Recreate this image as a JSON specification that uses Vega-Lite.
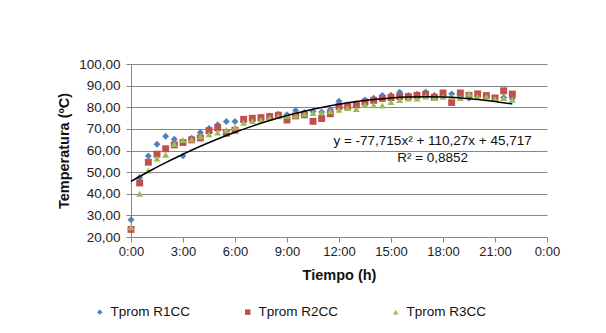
{
  "$schema": "https://vega.github.io/schema/vega-lite/v6.json",
  "width": 416,
  "height": 173,
  "autosize": "none",
  "padding": {"left": 131, "top": 64, "right": 59, "bottom": 96},
  "background": "white",
  "config": {
    "font": "Liberation Sans",
    "view": {"stroke": null},
    "axis": {"labelFont": "Liberation Sans", "titleFont": "Liberation Sans", "labelColor": "#222", "titleColor": "#111"}
  },
  "datasets": {
    "obs": [
      {"t": 0, "s": "Tprom R1CC", "v": 28.0}, {"t": 0, "s": "Tprom R2CC", "v": 23.5}, {"t": 0, "s": "Tprom R3CC", "v": 24.5},
      {"t": 0.5, "s": "Tprom R1CC", "v": 47.5}, {"t": 0.5, "s": "Tprom R2CC", "v": 45.0}, {"t": 0.5, "s": "Tprom R3CC", "v": 40.0},
      {"t": 1, "s": "Tprom R1CC", "v": 57.5}, {"t": 1, "s": "Tprom R2CC", "v": 54.6}, {"t": 1, "s": "Tprom R3CC", "v": 50.8},
      {"t": 1.5, "s": "Tprom R1CC", "v": 62.9}, {"t": 1.5, "s": "Tprom R2CC", "v": 58.3}, {"t": 1.5, "s": "Tprom R3CC", "v": 56.3},
      {"t": 2, "s": "Tprom R1CC", "v": 66.6}, {"t": 2, "s": "Tprom R2CC", "v": 60.8}, {"t": 2, "s": "Tprom R3CC", "v": 58.0},
      {"t": 2.5, "s": "Tprom R1CC", "v": 65.2}, {"t": 2.5, "s": "Tprom R2CC", "v": 62.6}, {"t": 2.5, "s": "Tprom R3CC", "v": 63.0},
      {"t": 3, "s": "Tprom R1CC", "v": 57.5}, {"t": 3, "s": "Tprom R2CC", "v": 63.7}, {"t": 3, "s": "Tprom R3CC", "v": 64.8},
      {"t": 3.5, "s": "Tprom R1CC", "v": 65.7}, {"t": 3.5, "s": "Tprom R2CC", "v": 64.9}, {"t": 3.5, "s": "Tprom R3CC", "v": 65.1},
      {"t": 4, "s": "Tprom R1CC", "v": 68.3}, {"t": 4, "s": "Tprom R2CC", "v": 65.8}, {"t": 4, "s": "Tprom R3CC", "v": 66.5},
      {"t": 4.5, "s": "Tprom R1CC", "v": 70.2}, {"t": 4.5, "s": "Tprom R2CC", "v": 69.2}, {"t": 4.5, "s": "Tprom R3CC", "v": 67.5},
      {"t": 5, "s": "Tprom R1CC", "v": 71.9}, {"t": 5, "s": "Tprom R2CC", "v": 70.5}, {"t": 5, "s": "Tprom R3CC", "v": 68.3},
      {"t": 5.5, "s": "Tprom R1CC", "v": 73.4}, {"t": 5.5, "s": "Tprom R2CC", "v": 68.0}, {"t": 5.5, "s": "Tprom R3CC", "v": 69.5},
      {"t": 6, "s": "Tprom R1CC", "v": 73.4}, {"t": 6, "s": "Tprom R2CC", "v": 69.4}, {"t": 6, "s": "Tprom R3CC", "v": 70.8},
      {"t": 6.5, "s": "Tprom R1CC", "v": 73.5}, {"t": 6.5, "s": "Tprom R2CC", "v": 74.4}, {"t": 6.5, "s": "Tprom R3CC", "v": 72.8},
      {"t": 7, "s": "Tprom R1CC", "v": 74.0}, {"t": 7, "s": "Tprom R2CC", "v": 74.9}, {"t": 7, "s": "Tprom R3CC", "v": 73.6},
      {"t": 7.5, "s": "Tprom R1CC", "v": 74.5}, {"t": 7.5, "s": "Tprom R2CC", "v": 75.2}, {"t": 7.5, "s": "Tprom R3CC", "v": 74.2},
      {"t": 8, "s": "Tprom R1CC", "v": 76.0}, {"t": 8, "s": "Tprom R2CC", "v": 75.7}, {"t": 8, "s": "Tprom R3CC", "v": 75.2},
      {"t": 8.5, "s": "Tprom R1CC", "v": 76.8}, {"t": 8.5, "s": "Tprom R2CC", "v": 76.3}, {"t": 8.5, "s": "Tprom R3CC", "v": 75.8},
      {"t": 9, "s": "Tprom R1CC", "v": 76.5}, {"t": 9, "s": "Tprom R2CC", "v": 74.1}, {"t": 9, "s": "Tprom R3CC", "v": 75.9},
      {"t": 9.5, "s": "Tprom R1CC", "v": 78.5}, {"t": 9.5, "s": "Tprom R2CC", "v": 76.0}, {"t": 9.5, "s": "Tprom R3CC", "v": 76.2},
      {"t": 10, "s": "Tprom R1CC", "v": 77.6}, {"t": 10, "s": "Tprom R2CC", "v": 76.5}, {"t": 10, "s": "Tprom R3CC", "v": 76.9},
      {"t": 10.5, "s": "Tprom R1CC", "v": 78.0}, {"t": 10.5, "s": "Tprom R2CC", "v": 73.5}, {"t": 10.5, "s": "Tprom R3CC", "v": 77.3},
      {"t": 11, "s": "Tprom R1CC", "v": 77.8}, {"t": 11, "s": "Tprom R2CC", "v": 74.8}, {"t": 11, "s": "Tprom R3CC", "v": 77.6},
      {"t": 11.5, "s": "Tprom R1CC", "v": 79.0}, {"t": 11.5, "s": "Tprom R2CC", "v": 77.0}, {"t": 11.5, "s": "Tprom R3CC", "v": 78.2},
      {"t": 12, "s": "Tprom R1CC", "v": 82.8}, {"t": 12, "s": "Tprom R2CC", "v": 80.4}, {"t": 12, "s": "Tprom R3CC", "v": 78.9},
      {"t": 12.5, "s": "Tprom R1CC", "v": 81.0}, {"t": 12.5, "s": "Tprom R2CC", "v": 80.4}, {"t": 12.5, "s": "Tprom R3CC", "v": 79.6},
      {"t": 13, "s": "Tprom R1CC", "v": 81.6}, {"t": 13, "s": "Tprom R2CC", "v": 81.1}, {"t": 13, "s": "Tprom R3CC", "v": 79.2},
      {"t": 13.5, "s": "Tprom R1CC", "v": 83.4}, {"t": 13.5, "s": "Tprom R2CC", "v": 82.4}, {"t": 13.5, "s": "Tprom R3CC", "v": 81.2},
      {"t": 14, "s": "Tprom R1CC", "v": 84.2}, {"t": 14, "s": "Tprom R2CC", "v": 83.2}, {"t": 14, "s": "Tprom R3CC", "v": 80.9},
      {"t": 14.5, "s": "Tprom R1CC", "v": 85.4}, {"t": 14.5, "s": "Tprom R2CC", "v": 84.1}, {"t": 14.5, "s": "Tprom R3CC", "v": 80.8},
      {"t": 15, "s": "Tprom R1CC", "v": 85.6}, {"t": 15, "s": "Tprom R2CC", "v": 84.5}, {"t": 15, "s": "Tprom R3CC", "v": 82.4},
      {"t": 15.5, "s": "Tprom R1CC", "v": 87.0}, {"t": 15.5, "s": "Tprom R2CC", "v": 85.0}, {"t": 15.5, "s": "Tprom R3CC", "v": 83.4},
      {"t": 16, "s": "Tprom R1CC", "v": 85.5}, {"t": 16, "s": "Tprom R2CC", "v": 84.9}, {"t": 16, "s": "Tprom R3CC", "v": 84.0},
      {"t": 16.5, "s": "Tprom R1CC", "v": 86.0}, {"t": 16.5, "s": "Tprom R2CC", "v": 85.5}, {"t": 16.5, "s": "Tprom R3CC", "v": 84.0},
      {"t": 17, "s": "Tprom R1CC", "v": 87.0}, {"t": 17, "s": "Tprom R2CC", "v": 86.0}, {"t": 17, "s": "Tprom R3CC", "v": 85.0},
      {"t": 17.5, "s": "Tprom R1CC", "v": 85.5}, {"t": 17.5, "s": "Tprom R2CC", "v": 84.6}, {"t": 17.5, "s": "Tprom R3CC", "v": 84.3},
      {"t": 18, "s": "Tprom R1CC", "v": 85.5}, {"t": 18, "s": "Tprom R2CC", "v": 86.6}, {"t": 18, "s": "Tprom R3CC", "v": 84.8},
      {"t": 18.5, "s": "Tprom R1CC", "v": 86.2}, {"t": 18.5, "s": "Tprom R2CC", "v": 82.2}, {"t": 18.5, "s": "Tprom R3CC", "v": 84.8},
      {"t": 19, "s": "Tprom R1CC", "v": 85.0}, {"t": 19, "s": "Tprom R2CC", "v": 86.6}, {"t": 19, "s": "Tprom R3CC", "v": 84.3},
      {"t": 19.5, "s": "Tprom R1CC", "v": 84.3}, {"t": 19.5, "s": "Tprom R2CC", "v": 85.5}, {"t": 19.5, "s": "Tprom R3CC", "v": 86.2},
      {"t": 20, "s": "Tprom R1CC", "v": 85.0}, {"t": 20, "s": "Tprom R2CC", "v": 86.2}, {"t": 20, "s": "Tprom R3CC", "v": 85.0},
      {"t": 20.5, "s": "Tprom R1CC", "v": 85.0}, {"t": 20.5, "s": "Tprom R2CC", "v": 85.4}, {"t": 20.5, "s": "Tprom R3CC", "v": 84.8},
      {"t": 21, "s": "Tprom R1CC", "v": 84.0}, {"t": 21, "s": "Tprom R2CC", "v": 84.3}, {"t": 21, "s": "Tprom R3CC", "v": 83.8},
      {"t": 21.5, "s": "Tprom R1CC", "v": 84.5}, {"t": 21.5, "s": "Tprom R2CC", "v": 87.6}, {"t": 21.5, "s": "Tprom R3CC", "v": 84.3},
      {"t": 22, "s": "Tprom R1CC", "v": 84.0}, {"t": 22, "s": "Tprom R2CC", "v": 86.1}, {"t": 22, "s": "Tprom R3CC", "v": 83.5}
    ],
    "trend": [
      {"t": 0, "v": 45.72}, {"t": 1, "v": 50.18}, {"t": 2, "v": 54.37}, {"t": 3, "v": 58.29},
      {"t": 4, "v": 61.94}, {"t": 5, "v": 65.32}, {"t": 6, "v": 68.43}, {"t": 7, "v": 71.27},
      {"t": 8, "v": 73.84}, {"t": 9, "v": 76.14}, {"t": 10, "v": 78.17}, {"t": 11, "v": 79.93},
      {"t": 12, "v": 81.42}, {"t": 13, "v": 82.65}, {"t": 14, "v": 83.60}, {"t": 15, "v": 84.28},
      {"t": 16, "v": 84.69}, {"t": 17, "v": 84.83}, {"t": 18, "v": 84.70}, {"t": 19, "v": 84.31},
      {"t": 20, "v": 83.64}, {"t": 21, "v": 82.71}, {"t": 22, "v": 81.50}
    ],
    "notes": [
      {"t": 17.4, "v": 64.5, "label": "y = -77,715x² + 110,27x + 45,717"},
      {"t": 17.4, "v": 56.7, "label": "R² = 0,8852"}
    ]
  },
  "encoding": {
    "x": {
      "field": "t", "type": "quantitative",
      "scale": {"domain": [0, 24], "nice": false, "zero": false},
      "axis": {
        "values": [0, 3, 6, 9, 12, 15, 18, 21, 24],
        "labelExpr": "(datum.value % 24) + ':00'",
        "title": "Tiempo (h)", "titleFontSize": 14.5, "titleFontWeight": "bold", "titlePadding": 10,
        "labelFontSize": 13, "labelPadding": 3,
        "grid": false, "domainColor": "#868686", "tickColor": "#868686", "tickSize": 5,
        "labelFlush": false
      }
    },
    "y": {
      "field": "v", "type": "quantitative",
      "scale": {"domain": [20, 100], "nice": false, "zero": false},
      "axis": {
        "values": [20, 30, 40, 50, 60, 70, 80, 90, 100],
        "labelExpr": "replace(format(datum.value, '.2f'), '.', ',')",
        "title": "Temperatura (ºC)", "titleFontSize": 14.5, "titleFontWeight": "bold", "titlePadding": 7,
        "labelFontSize": 13.5, "labelPadding": 6,
        "grid": true, "gridColor": "#868686", "gridWidth": 1,
        "domainColor": "#868686", "tickColor": "#868686", "tickSize": 5
      }
    }
  },
  "layer": [
    {
      "data": {"name": "obs"},
      "mark": {"type": "point", "filled": true, "opacity": 1, "size": 48},
      "encoding": {
        "color": {
          "field": "s", "type": "nominal",
          "scale": {"domain": ["Tprom R1CC", "Tprom R2CC", "Tprom R3CC"], "range": ["#4F81BD", "#C0504D", "#9BBB59"]},
          "legend": {
            "title": null, "orient": "none", "direction": "horizontal",
            "legendX": -38, "legendY": 241,
            "columnPadding": 50, "labelFontSize": 13.5, "labelFont": "Liberation Sans",
            "symbolSize": 30, "labelOffset": 4, "labelColor": "#111"
          }
        },
        "shape": {
          "field": "s", "type": "nominal",
          "scale": {"domain": ["Tprom R1CC", "Tprom R2CC", "Tprom R3CC"], "range": ["diamond", "square", "triangle-up"]}
        }
      }
    },
    {
      "data": {"name": "trend"},
      "mark": {"type": "line", "color": "black", "strokeWidth": 1.5, "interpolate": "monotone"},
      "encoding": {}
    },
    {
      "data": {"name": "notes"},
      "mark": {"type": "text", "font": "Liberation Sans", "fontSize": 13.5, "align": "center", "baseline": "middle", "color": "#111"},
      "encoding": {"text": {"field": "label"}}
    }
  ]
}
